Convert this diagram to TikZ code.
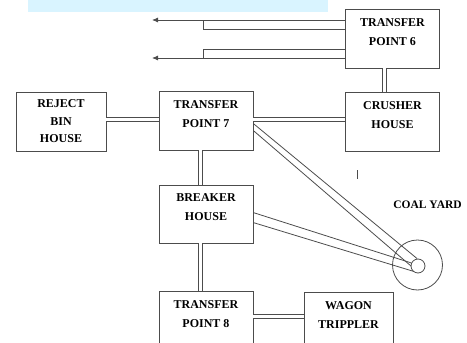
\documentclass[tikz,border=0pt]{standalone}
\usepackage{fontspec}
\setmainfont{Liberation Serif}
\usetikzlibrary{arrows.meta,calc}

\begin{document}
\begin{tikzpicture}[x=1pt,y=-1pt,line width=0.8pt,
	box/.style={draw=black!70,rectangle,minimum width=94pt,minimum height=59pt,
		inner sep=0pt,align=center,font=\fontsize{12}{19}\selectfont\bfseries},
	belt/.style={draw=black!70,double=white,double distance=3.6pt,line width=0.8pt},
	rail/.style={draw=black!70,line width=0.8pt},
	arrowout/.style={rail,-{Latex[length=6pt,width=5pt]}}]
	
	\useasboundingbox (0,0) rectangle (467,343);
	\clip (0,0) rectangle (467,343);
	\fill[blue!30!cyan!15!white] (28,0) rectangle (328,12);
	
	% buildings
	\node[box] (tp6) at (392.5,38.5) {TRANSFER\\POINT 6\\[-6pt]~};
	\node[box] (crusher) at (392.5,122) {CRUSHER\\HOUSE\\[-6pt]~};
	\node[box,minimum width=90pt,font=\fontsize{12}{17.5}\selectfont\bfseries] (reject) at (61,121.5) {REJECT\\BIN\\HOUSE};
	\node[box] (tp7) at (206,120.5) {TRANSFER\\POINT 7\\[-6pt]~};
	\node[box,minimum height=58pt] (breaker) at (206,214) {BREAKER\\HOUSE\\[-6pt]~};
	\node[box] (tp8) at (206,320.5) {TRANSFER\\POINT 8\\[-6pt]~};
	\node[box,minimum width=89pt] (wagon) at (348.5,321.5) {WAGON\\TRIPPLER\\[-6pt]~};
	
	% coal yard
	\node[draw=black!70,circle,minimum size=50pt,inner sep=0pt] (yard) at (417.5,265) {};
	\node[draw=black!70,circle,minimum size=14pt,inner sep=0pt] (hub) at (418,266) {};
	\node[anchor=west,font=\fontsize{11.5}{13}\selectfont\bfseries,inner sep=0pt] (yardlbl) at (393,205) {COAL YARD};
	\draw[rail,line width=0.6pt] (357,170) -- (357,179);
	
	% outgoing belts
	\coordinate (out1) at (152,20);
	\coordinate (out2) at (152,58);
	\draw[arrowout] (tp6.west |- out1) -- (out1);
	\draw[rail] (tp6.west |- 0,29) -- (203,29) -- (203,20);
	\draw[rail] (tp6.west |- 0,49) -- (203,49) -- (203,58);
	\draw[arrowout] (tp6.west |- out2) -- (out2);
	
	% conveyors
	\draw[belt] ([xshift=-8pt]tp6.south) -- ([xshift=-8pt]crusher.north);
	\draw[belt] (reject.east |- 0,119.5) -- (tp7.west |- 0,119.5);
	\draw[belt] (tp7.east |- 0,119.5) -- (crusher.west |- 0,119.5);
	\draw[belt] ([xshift=-5.5pt]tp7.south) -- ([xshift=-5.5pt]breaker.north);
	\draw[belt] ([xshift=-5.5pt]breaker.south) -- ([xshift=-5.5pt]tp8.north);
	\draw[belt] ($(tp8.north east)+(0,26)$) -- ($(wagon.north west)+(0,25)$);
	
	\draw[rail] ($(tp7.north east)+(0,33)$) -- ($(hub.center)+(-1,-7.5)$);
	\draw[rail] ($(tp7.north east)+(0,40)$) -- ($(hub.center)+(-7,0)$);
	\draw[rail] ($(breaker.north east)+(0,28)$) -- ($(hub.center)+(-6.5,-3)$);
	\draw[rail] ($(breaker.north east)+(0,38)$) -- ($(hub.center)+(-4,5.5)$);
\end{tikzpicture}
\end{document}
